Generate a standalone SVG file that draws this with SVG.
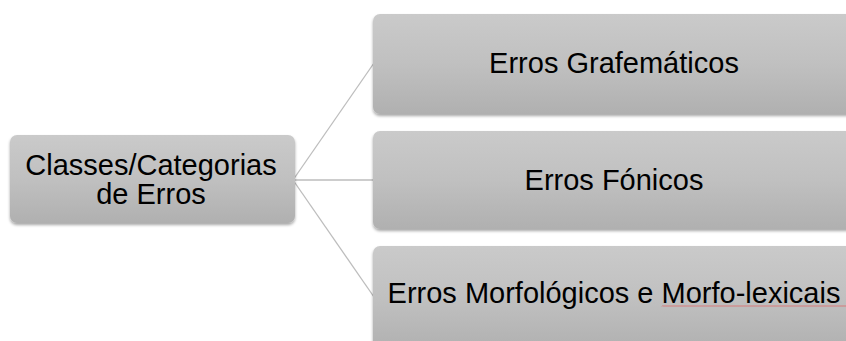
<svg xmlns="http://www.w3.org/2000/svg" width="846" height="341" viewBox="0 0 846 341">
<defs>
<linearGradient id="g" x1="0" y1="0" x2="0" y2="1">
<stop offset="0" stop-color="#cacaca"/>
<stop offset="0.5" stop-color="#c0c0c0"/>
<stop offset="1" stop-color="#b0b0b0"/>
</linearGradient>
<filter id="sh" x="-5%" y="-10%" width="110%" height="125%">
<feGaussianBlur in="SourceAlpha" stdDeviation="1.5"/>
<feOffset dx="0" dy="1.5" result="b"/>
<feComponentTransfer><feFuncA type="linear" slope="0.35"/></feComponentTransfer>
<feMerge><feMergeNode/><feMergeNode in="SourceGraphic"/></feMerge>
</filter>
</defs>
<style>
.box{fill:url(#g);filter:url(#sh);}
.t{font-family:"Liberation Sans",Arial,sans-serif;font-size:29px;fill:#000;text-anchor:middle;}
.c{stroke:#bdbdbd;stroke-width:1.3;fill:none;}
</style>
<rect width="846" height="341" fill="#fff"/>
<g id="connectors">
<line class="c" x1="293" y1="180" x2="374" y2="63"/>
<line class="c" x1="293" y1="180" x2="374" y2="180"/>
<line class="c" x1="293" y1="180" x2="374" y2="297"/>
</g>
<g id="root">
<rect class="box" x="10" y="135" width="285" height="88" rx="7"/>
<text class="t" x="151" y="175">Classes/Categorias</text>
<text class="t" x="151" y="204">de Erros</text>
</g>
<g id="n1">
<rect class="box" x="373" y="14" width="485" height="100" rx="7"/>
<text class="t" x="614" y="73">Erros Grafemáticos</text>
</g>
<g id="n2">
<rect class="box" x="373" y="131" width="485" height="98" rx="7"/>
<text class="t" x="614" y="190">Erros Fónicos</text>
</g>
<g id="n3">
<rect class="box" x="373" y="246" width="485" height="105" rx="7"/>
<text class="t" x="614" y="303">Erros Morfológicos e Morfo-lexicais</text>
<path d="M662 306.5 l1 -1 l1 1 l1 -1 l1 1 l1 -1 l1 1 l1 -1 l1 1 l1 -1 l1 1 l1 -1 l1 1 l1 -1 l1 1 l1 -1 l1 1 l1 -1 l1 1 l1 -1 l1 1 l1 -1 l1 1 l1 -1 l1 1 l1 -1 l1 1 l1 -1 l1 1 l1 -1 l1 1 l1 -1 l1 1 l1 -1 l1 1 l1 -1 l1 1 l1 -1 l1 1 l1 -1 l1 1 l1 -1 l1 1 l1 -1 l1 1 l1 -1 l1 1 l1 -1 l1 1 l1 -1 l1 1 l1 -1 l1 1 l1 -1 l1 1 l1 -1 l1 1 l1 -1 l1 1 l1 -1 l1 1 l1 -1 l1 1 l1 -1 l1 1 l1 -1 l1 1 l1 -1 l1 1 l1 -1 l1 1 l1 -1 l1 1 l1 -1 l1 1 l1 -1 l1 1 l1 -1 l1 1 l1 -1 l1 1 l1 -1 l1 1 l1 -1 l1 1 l1 -1 l1 1 l1 -1 l1 1 l1 -1 l1 1 l1 -1 l1 1 l1 -1 l1 1 l1 -1 l1 1 l1 -1 l1 1 l1 -1 l1 1 l1 -1 l1 1 l1 -1 l1 1 l1 -1 l1 1 l1 -1 l1 1 l1 -1 l1 1 l1 -1 l1 1 l1 -1 l1 1 l1 -1 l1 1 l1 -1 l1 1 l1 -1 l1 1 l1 -1 l1 1 l1 -1 l1 1 l1 -1 l1 1 l1 -1 l1 1 l1 -1 l1 1 l1 -1 l1 1 l1 -1 l1 1 l1 -1 l1 1 l1 -1 l1 1 l1 -1 l1 1 l1 -1 l1 1 l1 -1 l1 1 l1 -1 l1 1 l1 -1 l1 1 l1 -1 l1 1 l1 -1 l1 1 l1 -1 l1 1 l1 -1 l1 1 l1 -1 l1 1 l1 -1 l1 1 l1 -1 l1 1 l1 -1 l1 1 l1 -1 l1 1 l1 -1 l1 1 l1 -1 l1 1 l1 -1 l1 1 l1 -1 l1 1 l1 -1 l1 1 l1 -1 l1 1 l1 -1 l1 1 l1 -1 l1 1 l1 -1 l1 1 l1 -1 l1 1 l1 -1 l1 1 l1 -1 l1 1 l1 -1 l1 1" fill="none" stroke="#e06060" stroke-width="0.8"/>
</g>
</svg>
